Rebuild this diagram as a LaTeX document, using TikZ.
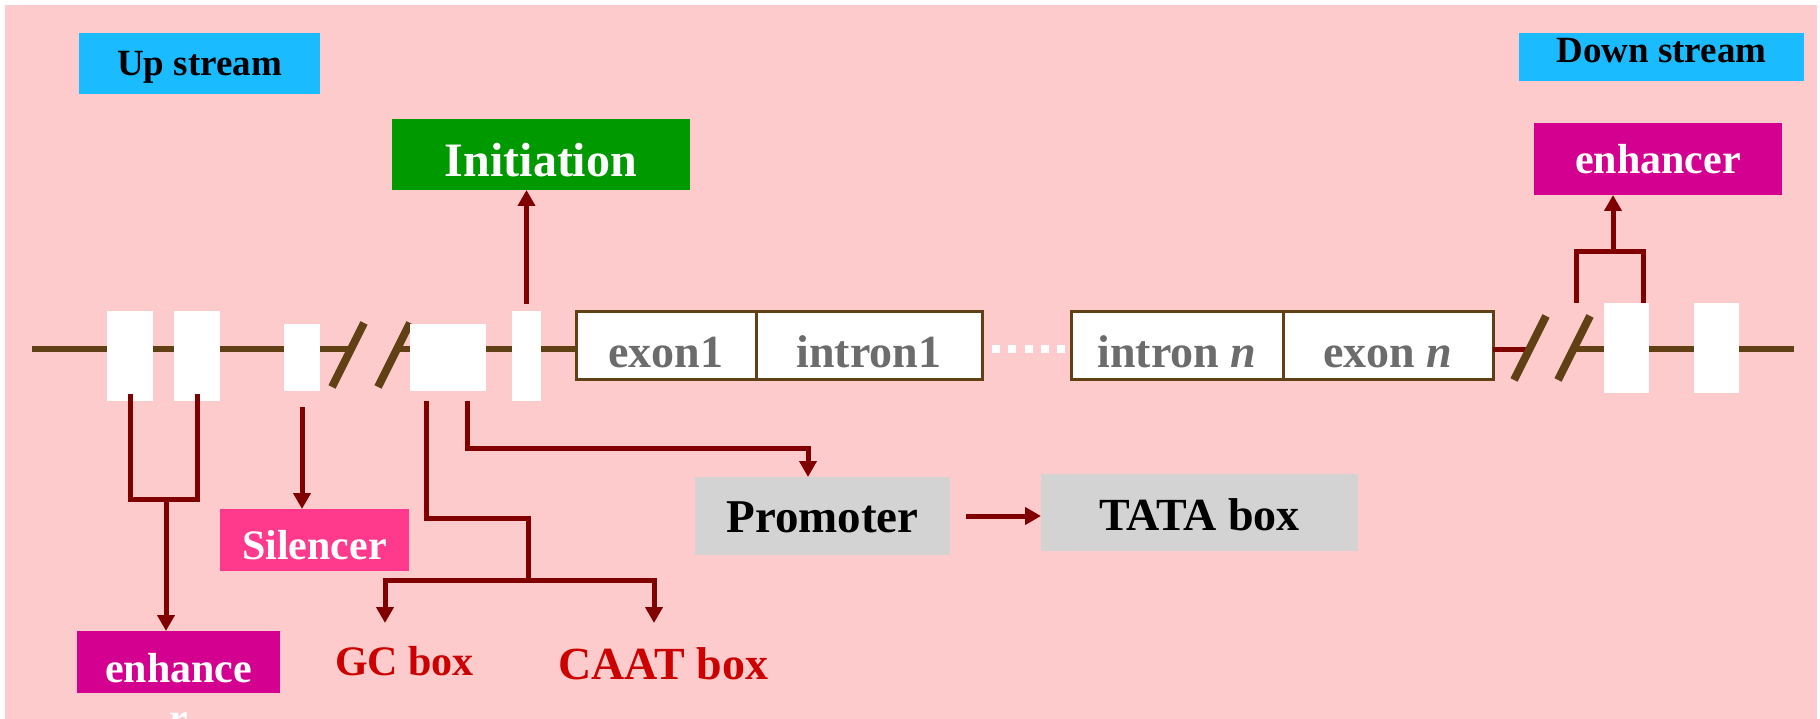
\documentclass[tikz,border=0pt]{standalone}
\usepackage{fontspec}
\setmainfont{Liberation Serif}
\usetikzlibrary{arrows.meta,positioning,calc}

\definecolor{slide}{RGB}{253,203,203}
\definecolor{sky}{RGB}{26,187,255}
\definecolor{leaf}{RGB}{0,153,0}
\definecolor{plum}{RGB}{212,0,143}
\definecolor{rose}{RGB}{255,58,140}
\definecolor{silver}{RGB}{211,211,211}
\definecolor{maroon}{RGB}{128,0,0}
\definecolor{strand}{RGB}{96,64,20}
\definecolor{crimson}{RGB}{204,0,0}
\definecolor{slate}{RGB}{108,108,108}

\newcommand{\tagfont}[1]{\bfseries\fontsize{#1}{#1}\selectfont}

\tikzset{
  tag/.style={inner sep=0pt, outer sep=0pt, text depth=0pt},
  site/.style={fill=white, inner sep=0pt, outer sep=0pt},
  part/.style={tag, draw=strand, line width=3pt, fill=white, text=slate,
    minimum height=68pt, text height=44pt, font=\tagfont{46}},
  link/.style={draw=maroon, line width=5pt},
  arr/.style={link, -{Triangle[width=17pt,length=16pt]}},
  dna/.style={draw=strand, line width=6pt},
  cut/.style={draw=strand, line width=8pt},
}

\begin{document}
\begin{tikzpicture}[x=1pt, y=-1pt]
\useasboundingbox (0,0) rectangle (1820,719);
\fill[white] (0,0) rectangle (1820,719);
\fill[slide] (5,5) rectangle (1817,719);

% headings
\node[tag, fill=sky, minimum width=241pt, minimum height=61pt, text height=25pt, font=\tagfont{37}] (up) at (199.5,63.5) {Up stream};
\node[tag, fill=sky, minimum width=285pt, minimum height=48pt, text height=12pt, font=\tagfont{37}] (down) at (1661.5,57) {Down stream};
\node[tag, fill=leaf, text=white, minimum width=298pt, minimum height=71pt, text height=45pt, font=\tagfont{48}] (init) at (541,154.5) {Initiation};
\node[tag, fill=plum, text=white, minimum width=248pt, minimum height=72pt, text height=29pt, font=\tagfont{42}] (enhR) at (1658,159) {enhancer};

% exons and introns
\node[part, minimum width=180pt] (exon1) at (666,345) {exon1};
\node[part, minimum width=226pt, right=0pt of exon1] (intron1) {intron1};
\node[part, minimum width=212pt] (intronn) at (1177,345) {intron \textit{n}};
\node[part, minimum width=210pt, right=0pt of intronn] (exonn) {exon \textit{n}};

% the strand
\coordinate (lend) at (32,349);
\coordinate (lcut1) at (351,349);
\coordinate (lcut2) at (397,349);
\coordinate (rcut1) at (1530,349);
\coordinate (rcut2) at (1574,349);
\coordinate (rend) at (1794,349);
\coordinate (dots1) at (992,349);
\coordinate (dots2) at (1065,349);
\draw[dna] (lend) -- (lcut1);
\draw[dna] (lcut2) -- (lcut2 -| exon1.west);
\draw[link] (rcut1 -| exonn.east) -- (rcut1);
\draw[dna] (rcut2) -- (rend);
\draw[white, line width=8pt, dash pattern=on 8pt off 8.3pt] (dots1) -- (dots2);
\foreach \cx/\cy in {348/355, 394/355, 1530/348, 1574/348}
  \draw[cut] (\cx-16,\cy+32) -- (\cx+16,\cy-32);

% binding sites
\node[site, minimum width=46pt, minimum height=90pt] (u1) at (130,356) {};
\node[site, minimum width=46pt, minimum height=90pt] (u2) at (197,356) {};
\node[site, minimum width=36pt, minimum height=67pt] (u3) at (302,357.5) {};
\node[site, minimum width=76pt, minimum height=67pt] (u4) at (448,357.5) {};
\node[site, minimum width=29pt, minimum height=90pt] (u5) at (526.5,356) {};
\node[site, minimum width=45pt, minimum height=90pt] (d1) at (1626.5,348) {};
\node[site, minimum width=45pt, minimum height=90pt] (d2) at (1716.5,348) {};

% elements below the strand
\node[tag, fill=rose, text=white, minimum width=189pt, minimum height=62pt, text height=38pt, font=\tagfont{42}] (sil) at (314.5,540) {Silencer};
\node[tag, fill=plum, text=white, minimum width=203pt, minimum height=62pt, text height=40pt, font=\tagfont{42},
  label={[anchor=base, text=white, font=\tagfont{42}, yshift=-39pt]south:r}] (enhL) at (178.5,662) {enhance};
\node[tag, fill=silver, minimum width=255pt, minimum height=78pt, text height=32pt, font=\tagfont{47}] (prom) at (822.5,516) {Promoter};
\node[tag, fill=silver, minimum width=317pt, minimum height=77pt, text height=35pt, font=\tagfont{46}] (tata) at (1199.5,512.5) {TATA box};
\node[tag, text=crimson, anchor=base, font=\tagfont{42}] (gc) at (404.5,675) {GC box};
\node[tag, text=crimson, anchor=base, font=\tagfont{46}] (caat) at (663.5,679) {CAAT box};

% arrows
\draw[arr] ([yshift=7pt]u5.north) -- (u5.north |- init.south);

\draw[link] ([yshift=7pt]u1.south) -- ++(0,105) -| ([yshift=7pt]u2.south);
\coordinate (lfork) at (166,499);
\draw[arr] (lfork) -- (lfork |- enhL.north);

\draw[arr] ([yshift=-16pt]u3.south) -- (u3.south |- sil.north);

\coordinate (gcknee) at (528,518);
\coordinate (gcfork) at (528,580);
\coordinate (gcin) at (385,623);
\coordinate (caatin) at (654,623);
\draw[link] ([xshift=-22pt,yshift=-10pt]u4.south) |- (gcknee) -- (gcfork);
\draw[arr] (gcfork) -| (gcin);
\draw[arr] (gcfork) -| (caatin);

\coordinate (promknee) at (808,448);
\draw[arr] ([xshift=19pt,yshift=-10pt]u4.south) |- (promknee) -- (promknee |- prom.north);
\draw[arr] ([xshift=16pt]prom.east) -- (prom.east -| tata.west);

\draw[link] ([xshift=-50pt]d1.north) -- ++(0,-51) -| ([xshift=17pt]d1.north);
\coordinate (rfork) at (1613,252);
\draw[arr] (rfork) -- (rfork |- enhR.south);
\end{tikzpicture}
\end{document}
